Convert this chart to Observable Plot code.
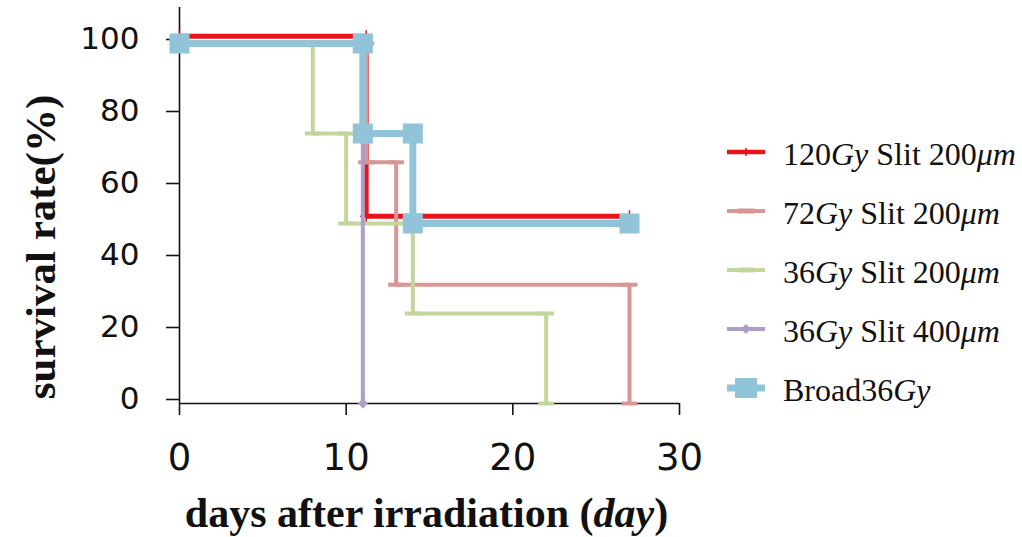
<!DOCTYPE html>
<html><head><meta charset="utf-8">
<script src="https://cdn.jsdelivr.net/npm/d3@7"></script>
<script src="https://cdn.jsdelivr.net/npm/@observablehq/plot@0.6"></script>
<style>
html,body{margin:0;padding:0;background:#fff;}
#wrap{position:relative;width:1022px;height:537px;overflow:hidden;background:#fff;}
#wrap svg{position:absolute;left:0;top:0;}
</style></head><body><div id="wrap"></div>
<script>
// ---- data ----
const seriesNames = ["120Gy Slit 200μm", "72Gy Slit 200μm", "36Gy Slit 200μm", "36Gy Slit 400μm", "Broad36Gy"];
const seriesColors = ["#e8141b", "#d99694", "#c3d69b", "#ae9fc9", "#92c4d9"];

const slit120Days = [0, 11.2, 11.2, 27];
const slit120Rate = [102, 102, 52, 52];
const slit72Days = [0, 11.2, 11.2, 13, 13, 27, 27];
const slit72Rate = [100, 100, 67, 67, 33, 33, 0];
const slit36Days = [0, 8, 8, 10, 10, 14, 14, 22, 22];
const slit36Rate = [100, 100, 75, 75, 50, 50, 25, 25, 0];
const slit36w400Days = [0, 11, 11];
const slit36w400Rate = [100, 100, 0];
const broadDays = [0, 11, 11, 14, 14, 27];
const broadRate = [100, 100, 75, 75, 50, 50];

const xTicks = [0, 10, 20, 30];
const yTicks = [0, 20, 40, 60, 80, 100];

const pts = (xs, ys) => xs.map((x, i) => ({x, y: ys[i]}));
const s120 = pts(slit120Days, slit120Rate);
const s72 = pts(slit72Days, slit72Rate);
const s36 = pts(slit36Days, slit36Rate);
const s400 = pts(slit36w400Days, slit36w400Rate);
const sBroad = pts(broadDays, broadRate);

// horizontal dash marker (Excel "-" marker)
const dashSymbol = {
  draw(ctx, size) {
    const r = Math.sqrt(size / Math.PI);
    ctx.moveTo(-r, -r / 4); ctx.lineTo(r, -r / 4); ctx.lineTo(r, r / 4); ctx.lineTo(-r, r / 4); ctx.closePath();
  }
};

const lineOpts = (c, w) => ({x: "x", y: "y", stroke: c, strokeWidth: w, strokeLinejoin: "miter", strokeLinecap: "butt"});
const tickFont = "'DejaVu Sans', sans-serif";

const chart = Plot.plot({
  width: 1022, height: 537,
  marginLeft: 179, marginRight: 343, marginTop: 7, marginBottom: 134,
  x: {domain: [0, 30]},
  y: {domain: [0, 110]},
  style: {background: "transparent", fontFamily: tickFont, color: "#111", overflow: "visible"},
  marks: [
    Plot.ruleX([0], {stroke: "#111", strokeWidth: 1.6}),
    Plot.ruleY([0], {stroke: "#111", strokeWidth: 1.6}),
    Plot.axisX({ticks: xTicks, tickSize: 12, tickPadding: 28, fontSize: 37, fontFamily: tickFont, strokeWidth: 1.6, label: null}),
    Plot.axisY({ticks: yTicks, tickSize: 13, tickPadding: 27, fontSize: 31, fontFamily: tickFont, dy: -4, strokeWidth: 1.6, label: null}),
    // 120Gy slit 200
    Plot.line(s120, lineOpts(seriesColors[0], 5)),
    Plot.dot(s120, {x: "x", y: "y", symbol: "plus", r: 4, stroke: seriesColors[0], strokeWidth: 1.5}),
    // 72Gy slit 200
    Plot.line(s72, lineOpts(seriesColors[1], 4)),
    Plot.dot(s72, {x: "x", y: "y", symbol: dashSymbol, r: 8, fill: seriesColors[1]}),
    // 36Gy slit 200
    Plot.line(s36, lineOpts(seriesColors[2], 4)),
    Plot.dot(s36, {x: "x", y: "y", symbol: dashSymbol, r: 8, fill: seriesColors[2]}),
    // 36Gy slit 400
    Plot.line(s400, lineOpts(seriesColors[3], 4)),
    Plot.dot(s400, {x: "x", y: "y", symbol: "diamond2", r: 4.5, fill: seriesColors[3]}),
    // Broad 36Gy
    Plot.line(sBroad, lineOpts(seriesColors[4], 7)),
    Plot.dot(sBroad, {x: "x", y: "y", symbol: "square", r: 11.3, fill: seriesColors[4]})
  ]
});
document.getElementById("wrap").appendChild(chart);

// ---- titles and legend overlay ----
const ov = d3.select("#wrap").append("svg").attr("width", 1022).attr("height", 537);
const serif = "'Liberation Serif', 'Times New Roman', serif";

const xt = ov.append("text").attr("x", 426.5).attr("y", 527).attr("text-anchor", "middle")
  .attr("font-family", serif).attr("font-weight", "bold").attr("font-size", 42).attr("fill", "#111");
xt.append("tspan").text("days after irradiation (");
xt.append("tspan").attr("font-style", "italic").text("day");
xt.append("tspan").text(")");

ov.append("text").attr("transform", "translate(55,247) rotate(-90)").attr("text-anchor", "middle")
  .attr("font-family", serif).attr("font-weight", "bold").attr("font-size", 43).attr("fill", "#111")
  .text("survival rate(%)");

const rowY = [152, 211, 270, 329, 388];
const labelParts = [
  [["120", false], ["Gy", true], [" Slit 200", false], ["μm", true]],
  [["72", false], ["Gy", true], [" Slit 200", false], ["μm", true]],
  [["36", false], ["Gy", true], [" Slit 200", false], ["μm", true]],
  [["36", false], ["Gy", true], [" Slit 400", false], ["μm", true]],
  [["Broad36", false], ["Gy", true]]
];
seriesNames.forEach((name, i) => {
  const y = rowY[i], c = seriesColors[i];
  const g = ov.append("g");
  const lw = i === 4 ? 7 : (i === 0 ? 4.5 : 4);
  g.append("line").attr("x1", 727).attr("x2", 765).attr("y1", y).attr("y2", y).attr("stroke", c).attr("stroke-width", lw);
  if (i === 0) g.append("line").attr("x1", 746).attr("x2", 746).attr("y1", y - 4).attr("y2", y + 4).attr("stroke", c).attr("stroke-width", 1.5);
  if (i === 1 || i === 2) g.append("rect").attr("x", 738).attr("y", y - 2.5).attr("width", 16).attr("height", 5).attr("fill", c);
  if (i === 3) g.append("path").attr("d", `M746,${y-5}L751,${y}L746,${y+5}L741,${y}Z`).attr("fill", c);
  if (i === 4) g.append("rect").attr("x", 735).attr("y", y - 10).attr("width", 22).attr("height", 20).attr("fill", c);
  const t = g.append("text").attr("x", 783).attr("y", y + 13).attr("font-family", serif).attr("font-size", 32).attr("fill", "#111");
  labelParts[i].forEach(([s, it]) => { const sp = t.append("tspan").text(s); if (it) sp.attr("font-style", "italic"); });
});
</script></body></html>
